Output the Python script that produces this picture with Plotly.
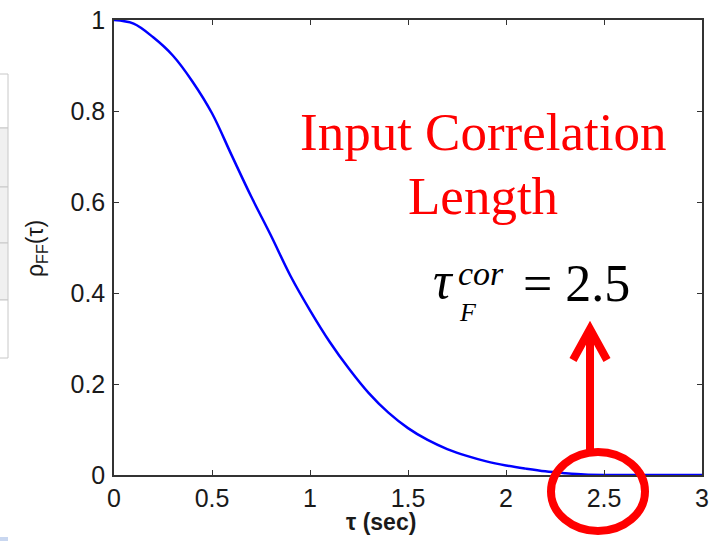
import plotly.graph_objects as go

# Autocorrelation of the input force versus lag
tau = [0.0, 0.1, 0.2, 0.3, 0.4, 0.5, 0.6, 0.7, 0.8, 0.9, 1.0,
       1.1, 1.2, 1.3, 1.4, 1.5, 1.6, 1.7, 1.8, 1.9, 2.0,
       2.1, 2.2, 2.3, 2.4, 2.5, 2.6, 2.7, 2.8, 2.9, 3.0]
rho_ff = [1.0, 0.992, 0.962, 0.922, 0.865, 0.795, 0.703, 0.612, 0.527, 0.438, 0.362,
          0.293, 0.233, 0.18, 0.137, 0.103, 0.077, 0.057, 0.042, 0.030, 0.021,
          0.014, 0.008, 0.004, 0.001, 0.0, 0.0, 0.0, 0.0, 0.0, 0.0]

x_ticks = [0, 0.5, 1, 1.5, 2, 2.5, 3]
x_tick_text = ["0", "0.5", "1", "1.5", "2", "2.5", "3"]
y_ticks = [0, 0.2, 0.4, 0.6, 0.8, 1]
y_tick_text = ["0", "0.2", "0.4", "0.6", "0.8", "1"]

corr_length = 2.5

W, H = 714, 541
ML, MR, MT, MB = 114, 12, 20, 66
PW, PH = W - ML - MR, H - MT - MB


def px(x):
    """pixel column -> paper x"""
    return (x - ML) / PW


def py(y):
    """pixel row -> paper y"""
    return (H - MB - y) / PH


fig = go.Figure()
fig.add_trace(go.Scatter(
    x=tau, y=rho_ff, mode="lines",
    line=dict(color="#0000ff", width=2.5, shape="spline", smoothing=1.0),
    hoverinfo="skip", showlegend=False,
))

axis_common = dict(
    showgrid=False, zeroline=False, automargin=False,
    showline=True, linecolor="#333333", linewidth=1.5,
    mirror="ticks", ticks="inside", ticklen=5, tickwidth=1, tickcolor="#333333",
    tickfont=dict(family="Liberation Sans, Arial, sans-serif", size=25, color="#1a1a1a"),
)

fig.update_xaxes(range=[0, 3], tickvals=x_ticks, ticktext=x_tick_text, **axis_common)
fig.update_yaxes(range=[0, 1], tickvals=y_ticks, ticktext=y_tick_text, ticklabelstandoff=2,
                 **axis_common)

serif = "Liberation Serif, Times New Roman, serif"
sans = "Liberation Sans, Arial, sans-serif"
ann = []
# axis titles
ann.append(dict(text="ρ<sub>FF</sub>(τ)", x=px(36), y=py(249), xref="paper", yref="paper",
                textangle=-90, showarrow=False, xanchor="center", yanchor="middle",
                font=dict(family=sans, size=23, color="#1a1a1a")))
ann.append(dict(text="<b>τ (sec)</b>", x=px(381), y=py(522), xref="paper", yref="paper",
                showarrow=False, xanchor="center", yanchor="middle",
                font=dict(family=sans, size=23, color="#1a1a1a")))
# red caption
ann.append(dict(text="Input Correlation", x=px(483), y=py(132), xref="paper", yref="paper",
                showarrow=False, xanchor="center", yanchor="middle",
                font=dict(family=serif, size=53, color="#ff0000")))
ann.append(dict(text="Length", x=px(483), y=py(196), xref="paper", yref="paper",
                showarrow=False, xanchor="center", yanchor="middle",
                font=dict(family=serif, size=53, color="#ff0000")))
# equation  tau_F^cor = 2.5
ann.append(dict(text="<i>τ</i>", x=px(431), y=py(280), xref="paper", yref="paper",
                showarrow=False, xanchor="left", yanchor="middle",
                font=dict(family=serif, size=52, color="#000000")))
ann.append(dict(text="<i>cor</i>", x=px(456), y=py(273), xref="paper", yref="paper",
                showarrow=False, xanchor="left", yanchor="middle",
                font=dict(family=serif, size=34, color="#000000")))
ann.append(dict(text="<i>F</i>", x=px(457), y=py(313), xref="paper", yref="paper",
                showarrow=False, xanchor="left", yanchor="middle",
                font=dict(family=serif, size=26, color="#000000")))
ann.append(dict(text=f"= {corr_length}", x=px(521), y=py(284), xref="paper", yref="paper",
                showarrow=False, xanchor="left", yanchor="middle",
                font=dict(family=serif, size=52, color="#000000")))

shapes = []
# ellipse around the correlation length on the tau axis
shapes.append(dict(type="circle", xref="paper", yref="paper",
                   x0=px(551), x1=px(645), y0=py(531), y1=py(452),
                   line=dict(color="#ff0000", width=8)))
# arrow pointing up to the equation
ax = px(590)
shapes.append(dict(type="path", xref="paper", yref="paper",
                   path=f"M {ax},{py(452)} L {ax},{py(331)}",
                   line=dict(color="#ff0000", width=8)))
shapes.append(dict(type="path", xref="paper", yref="paper",
                   path=f"M {px(573)},{py(360)} L {ax},{py(329)} L {px(607)},{py(360)}",
                   line=dict(color="#ff0000", width=8)))

# table edge at the left border
tbl_rows = [74, 128, 187, 243, 300, 358]
tbl_fill = ["#ffffff", "#f0f0f0", "#f0f0f0", "#f0f0f0", "#ffffff"]
for i in range(len(tbl_rows) - 1):
    shapes.append(dict(type="rect", xref="paper", yref="paper",
                       x0=px(-2), x1=px(8), y0=py(tbl_rows[i + 1]), y1=py(tbl_rows[i]),
                       fillcolor=tbl_fill[i], line=dict(color="#c8c8c8", width=1),
                       layer="below"))
shapes.append(dict(type="rect", xref="paper", yref="paper",
                   x0=px(-2), x1=px(8), y0=py(542), y1=py(537),
                   fillcolor="#c9d7f0", line=dict(width=0), layer="below"))

fig.update_layout(
    width=W, height=H,
    margin=dict(l=ML, r=MR, t=MT, b=MB, autoexpand=False),
    paper_bgcolor="#ffffff", plot_bgcolor="#ffffff",
    annotations=ann, shapes=shapes,
    showlegend=False,
)

fig.write_html("out.html")
